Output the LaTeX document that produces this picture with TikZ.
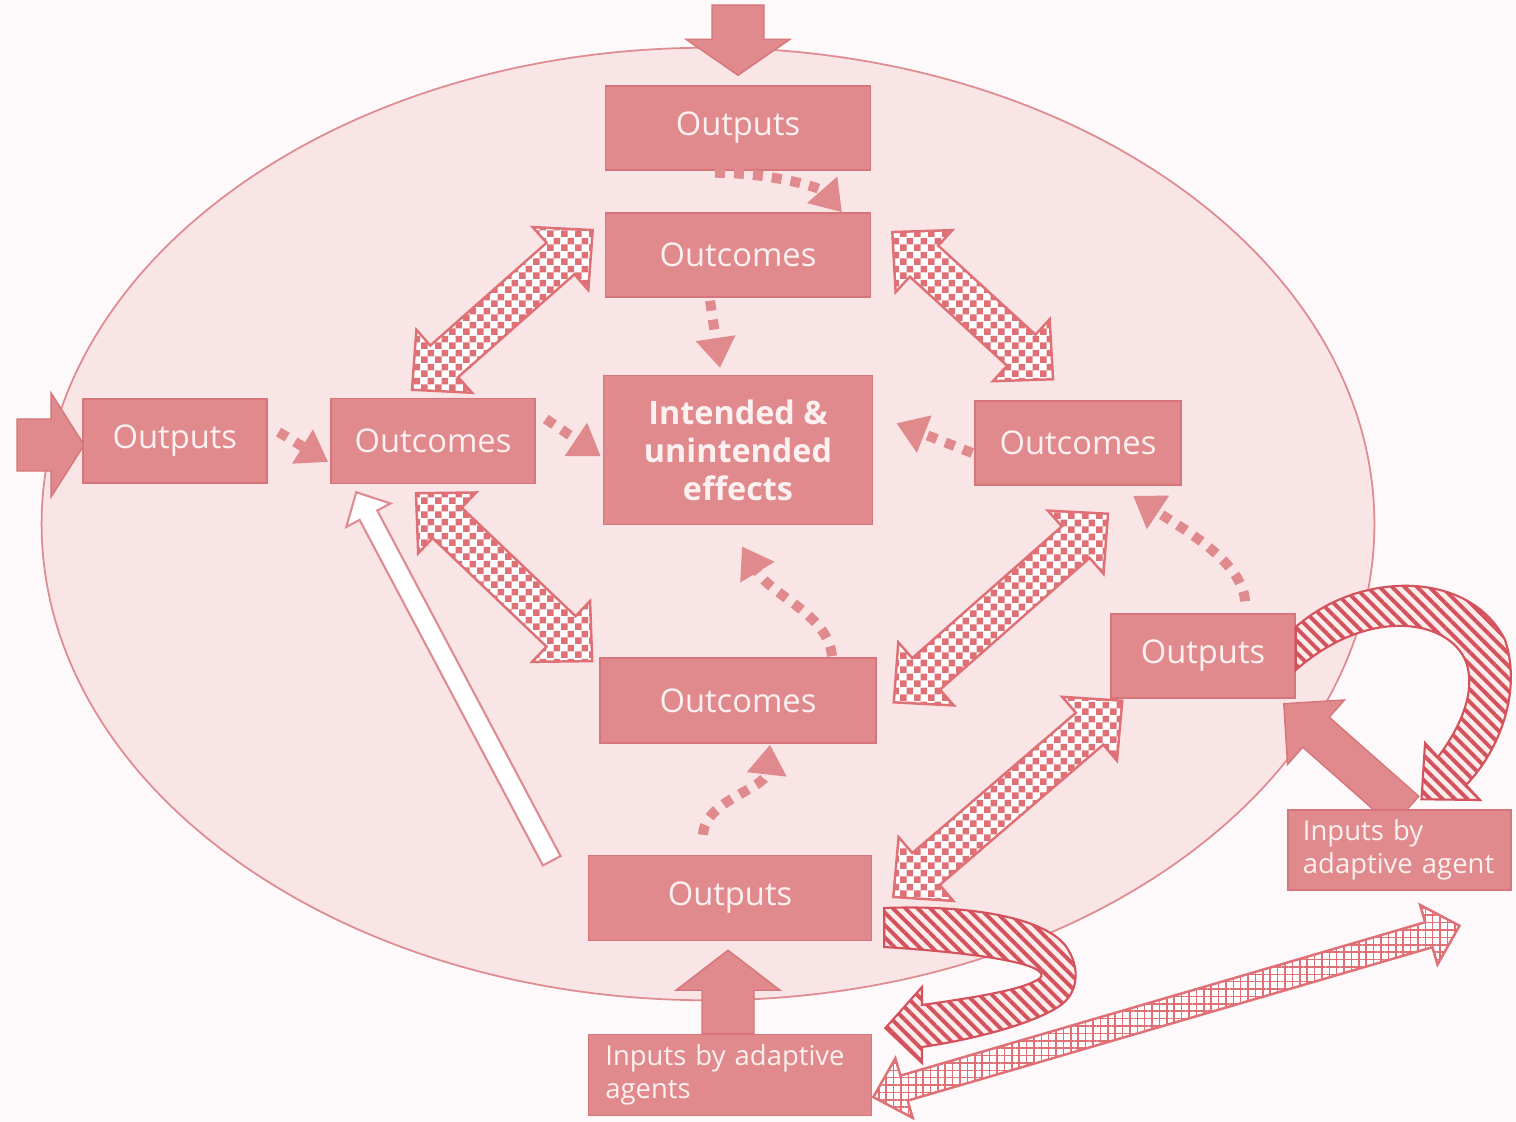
\documentclass[tikz,border=0pt]{standalone}
\usepackage{fontspec}
\setmainfont{Open Sans}
\usetikzlibrary{positioning,calc,arrows.meta,patterns.meta,backgrounds}

\definecolor{boxfill}{RGB}{224,138,141}
\definecolor{boxline}{RGB}{214,118,122}
\definecolor{boxtext}{RGB}{253,240,240}
\definecolor{ovalfill}{RGB}{250,229,230}
\definecolor{ovalline}{RGB}{222,140,146}
\definecolor{paper}{RGB}{253,248,249}
\definecolor{patred}{RGB}{222,112,118}
\definecolor{stripered}{RGB}{212,82,92}
\definecolor{ribbonbg}{RGB}{253,236,236}

\tikzdeclarepattern{
  name=checker,
  type=uncolored,
  bottom left={(0pt,0pt)},
  top right={(4pt,4pt)},
  tile size={(4pt,4pt)},
  code={
    \fill (0pt,0pt) rectangle (2pt,2pt);
    \fill (2pt,2pt) rectangle (4pt,4pt);
  }
}

\begin{document}
\begin{tikzpicture}[x=0.01cm, y=-0.01cm, on grid,
  box/.style={draw=boxline, fill=boxfill, text=boxtext, inner sep=0pt,
              font=\fontsize{9.3}{11}\selectfont},
  agentbox/.style={box, align=left, font=\fontsize{7.8}{9.4}\selectfont},
  dotline/.style={draw=boxfill, line width=0.1cm, dash pattern=on 0.1cm off 0.09cm,
                  -{Triangle[length=0.3cm, width=0.38cm]}},
  bigarrow/.style={fill=boxfill, draw=boxline, line width=0.4pt},
  chk/.style={draw=patred, line width=0.7pt, preaction={fill=white},
              pattern=checker, pattern color=patred},
  hatch/.style={draw=patred, line width=0.7pt, preaction={fill=white},
                pattern={Hatch[distance=2.1pt, line width=0.45pt]}, pattern color=patred},
  stripes/.style={draw=stripered, line width=0.6pt, preaction={fill=ribbonbg},
                  pattern={Lines[angle=-45, distance=2.5pt, line width=1.1pt]},
                  pattern color=stripered},
  hollow/.style={draw=ovalline, line width=0.6pt, fill=white},
  % #1 head length, #2 head half width, #3 shaft half width
  fat/.style n args={3}{to path={
    -- ($(\tikztostart)!#3!90:(\tikztotarget)$)
    -- ($(\tikztotarget)!#1!(\tikztostart)!#3!-90:(\tikztostart)$)
    -- ($(\tikztotarget)!#1!(\tikztostart)!#2!-90:(\tikztostart)$)
    -- (\tikztotarget)
    -- ($(\tikztotarget)!#1!(\tikztostart)!#2!90:(\tikztostart)$)
    -- ($(\tikztotarget)!#1!(\tikztostart)!#3!90:(\tikztostart)$)
    -- ($(\tikztostart)!#3!-90:(\tikztotarget)$)
    -- cycle}},
  fat double/.style n args={3}{to path={
    -- ($(\tikztostart)!#1!(\tikztotarget)!#2!90:(\tikztotarget)$)
    -- ($(\tikztostart)!#1!(\tikztotarget)!#3!90:(\tikztotarget)$)
    -- ($(\tikztotarget)!#1!(\tikztostart)!#3!-90:(\tikztostart)$)
    -- ($(\tikztotarget)!#1!(\tikztostart)!#2!-90:(\tikztostart)$)
    -- (\tikztotarget)
    -- ($(\tikztotarget)!#1!(\tikztostart)!#2!90:(\tikztostart)$)
    -- ($(\tikztotarget)!#1!(\tikztostart)!#3!90:(\tikztostart)$)
    -- ($(\tikztostart)!#1!(\tikztotarget)!#3!-90:(\tikztotarget)$)
    -- ($(\tikztostart)!#1!(\tikztotarget)!#2!-90:(\tikztotarget)$)
    -- cycle}}]

  \begin{scope}[on background layer]
    \fill[paper] (0,0) rectangle (1516,1122);
    \draw[fill=ovalfill, draw=ovalline, line width=0.5pt] (708,524) ellipse [x radius=6.66cm, y radius=4.76cm];
  \end{scope}
  \useasboundingbox (0,0) rectangle (1516,1122);

  \node[box, minimum width=2.65cm, minimum height=0.84cm] (op) at (738,128) {Outputs};
  \node[box, minimum width=2.65cm, minimum height=0.84cm] (oc) [below=1.27cm of op] {Outcomes};
  \node[box, minimum width=2.69cm, minimum height=1.49cm, align=center,
        font=\fontsize{9.2}{10.8}\selectfont\bfseries] (ce) [below=1.95cm of oc] {Intended \&\\unintended\\effects};
  \node[box, minimum width=2.76cm, minimum height=0.85cm] (bo) [below=2.5cm of ce] {Outcomes};
  \node[box, minimum width=2.83cm, minimum height=0.85cm] (bp) at (730,898) {Outputs};
  \node[agentbox, text width=2.49cm, inner xsep=0.17cm, minimum height=0.81cm] (ib) [below=1.77cm of bp] {Inputs by adaptive\\agents};
  \node[box, minimum width=2.04cm, minimum height=0.85cm] (lo) at (433,441) {Outcomes};
  \node[box, minimum width=1.84cm, minimum height=0.84cm] (lp) [left=2.58cm of lo] {Outputs};
  \node[box, minimum width=2.06cm, minimum height=0.84cm] (ro) at (1078,443) {Outcomes};
  \node[box, minimum width=1.84cm, minimum height=0.84cm] (rp) at (1203,656) {Outputs};
  \node[agentbox, text width=1.93cm, inner xsep=0.15cm, minimum height=0.8cm] (ia) at (1399.5,850) {Inputs by\\adaptive agent};

  % ends of the fat arrows
  \coordinate (topin) at (738,5);
  \coordinate (topout) at ($(op.north)+(0,-10)$);
  \coordinate (leftin) at (17,445);
  \coordinate (leftout) at ($(lp.west)+(2,4)$);
  \coordinate (botin) at ($(ib.north)+(-2,0)$);
  \coordinate (botout) at ($(bp.south)+(-2,9)$);
  \coordinate (agin) at ($(ia.north)+(6,2)$);
  \coordinate (agout) at ($(rp.south east)+(-12,5)$);
  \coordinate (lo-n) at ($(lo.north)+(-21,-8)$);
  \coordinate (oc-w) at ($(oc.west)+(-12,-25)$);
  \coordinate (oc-e) at ($(oc.east)+(21,-23)$);
  \coordinate (ro-n) at ($(ro.north)+(-25,-21)$);
  \coordinate (lo-s) at ($(lo.south)+(-17,9)$);
  \coordinate (bo-w) at ($(bo.north west)+(-7,4)$);
  \coordinate (ro-s) at ($(ro.south)+(30,28)$);
  \coordinate (bo-e) at ($(bo.east)+(17,2)$);
  \coordinate (rp-s) at ($(rp.south west)+(12,2)$);
  \coordinate (bp-e) at ($(bp.east)+(21,-1)$);
  \coordinate (ia-s) at ($(ia.south)+(60,35)$);
  \coordinate (ib-e) at ($(ib.east)+(1,22)$);
  \coordinate (bp-nw) at ($(bp.north west)+(-36,6)$);
  \coordinate (lo-sw) at ($(lo.south west)+(26,8)$);

  \begin{scope}[on background layer]
    \path[bigarrow] (topin) to[fat={0.36cm}{0.52cm}{0.26cm}] (topout);
    \path[bigarrow] (leftin) to[fat={0.33cm}{0.52cm}{0.26cm}] (leftout);
    \path[bigarrow] (botin) to[fat={0.4cm}{0.52cm}{0.26cm}] (botout);
    \path[bigarrow] (agin) to[fat={0.43cm}{0.43cm}{0.2cm}] (agout);
  \end{scope}

  \path[chk] (lo-n) to[fat double={0.43cm}{0.42cm}{0.21cm}] (oc-w);
  \path[chk] (oc-e) to[fat double={0.43cm}{0.42cm}{0.21cm}] (ro-n);
  \path[chk] (lo-s) to[fat double={0.43cm}{0.42cm}{0.21cm}] (bo-w);
  \path[chk] (ro-s) to[fat double={0.43cm}{0.42cm}{0.21cm}] (bo-e);
  \path[chk] (rp-s) to[fat double={0.43cm}{0.42cm}{0.21cm}] (bp-e);
  \path[hatch] (ia-s) to[fat double={0.32cm}{0.31cm}{0.13cm}] (ib-e);
  \path[hollow] (bp-nw) to[fat={0.26cm}{0.25cm}{0.1cm}] (lo-sw);

  \draw[dotline] ($(op.south)+(-23,2)$) .. controls +(55,0) and +(-22,-25) .. ($(oc.north)+(104,0)$);
  \draw[dotline] ($(oc.south)+(-28,3)$) -- ($(ce.north)+(-18,-7)$);
  \draw[dotline] ($(lp.east)+(11,-9)$) -- ($(lo.west)+(-2,21)$);
  \draw[dotline] ($(lo.east)+(10,-22)$) -- ($(ce.west)+(-2,6)$);
  \draw[dotline] ($(ro.west)+(-2,10)$) -- ($(ce.east)+(23,-27)$);
  \draw[dotline] ($(rp.north)+(42,-12)$) .. controls +(-2,-40) and +(45,30) .. ($(ro.south)+(55,10)$);
  \draw[dotline] ($(bo.north)+(94,-1)$) .. controls +(-4,-42) and +(30,50) .. ($(ce.south)+(4,21)$);
  \draw[dotline] ($(bp.north)+(-27,-20)$) .. controls +(2,-35) and +(-5,45) .. ($(bo.south)+(32,1)$);

  % ribbon arrows
  \path[stripes] ($(rp.east)+(0,-29)$) .. controls (1360,570) and (1470,570) .. (1505,640)
    .. controls (1522,690) and (1500,750) .. (1466,785)
    -- (1480,800) -- ($(ia.north)+(22,-10)$) -- (1425,743) -- (1438,757)
    .. controls (1462,725) and (1476,690) .. (1466,662)
    .. controls (1450,620) and (1370,605) .. ($(rp.east)+(0,14)$) -- cycle;
  \path[stripes] ($(bp.east)+(12,10)$) .. controls (960,905) and (1040,915) .. (1065,945)
    .. controls (1082,968) and (1078,995) .. (1058,1007)
    .. controls (1030,1025) and (970,1040) .. (922,1047)
    -- (922,1063) -- ($(ib.east)+(13,-47)$) -- (922,987) -- (922,1005)
    .. controls (970,998) and (1025,990) .. (1040,978)
    .. controls (1050,968) and (1010,955) .. ($(bp.east)+(12,49)$) -- cycle;
\end{tikzpicture}
\end{document}
